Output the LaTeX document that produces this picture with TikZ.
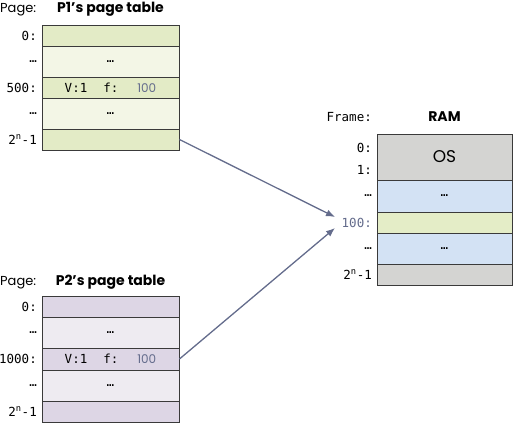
\documentclass[tikz,border=0pt]{standalone}
\usepackage{fontspec}
\setsansfont{Poppins}
\setmonofont{DejaVu Sans Mono}
\usetikzlibrary{arrows.meta}
\definecolor{gdark}{HTML}{E3EBC6}
\definecolor{glight}{HTML}{F3F6E6}
\definecolor{pdark}{HTML}{DDD6E5}
\definecolor{plight}{HTML}{EEEBF1}
\definecolor{osgray}{HTML}{D4D4D2}
\definecolor{rblue}{HTML}{D3E2F4}
\definecolor{rgreen}{HTML}{E4EDC7}
\definecolor{slate}{HTML}{646C8C}
\definecolor{bord}{HTML}{3A3A3A}
\tikzset{
  row/.style={draw=bord, line width=0.9pt, rectangle, inner sep=0pt, minimum width=137pt, font=\ttfamily\fontsize{12.5}{14}\selectfont},
  ramrow/.style={row, minimum width=135pt},
  lbl/.style={anchor=east, inner sep=0pt, font=\ttfamily\fontsize{12.5}{14}\selectfont},
  ttl/.style={inner sep=0pt, font=\sffamily\bfseries\fontsize{14}{16}\selectfont},
  captxt/.style={inner sep=0pt, font=\sffamily\fontsize{13}{15}\selectfont},
  conn/.style={draw=slate, line width=1.3pt, -{Latex[length=9pt,width=7pt]}}
}
\newcommand{\entry}{V:1\hspace{16pt}f:\hspace{19pt}{\sffamily\fontsize{12}{14}\selectfont\color{slate}100}}
\begin{document}
\begin{tikzpicture}[x=1pt,y=-1pt]
\useasboundingbox (0,0) rectangle (513,423);
% P1 table
\node[captxt, anchor=west] (p1page) at (0,10) {Page:};
\node[ttl] (p1title) at (110.5,9) {P1’s page table};
\node[row, fill=gdark, minimum height=21pt] (p1r1) at (110.5,35.5) {};
\node[row, fill=glight, minimum height=31pt] (p1r2) at (110.5,61.5) {…};
\node[row, fill=gdark, minimum height=21pt] (p1r3) at (110.5,87.5) {\entry};
\node[row, fill=glight, minimum height=31pt] (p1r4) at (110.5,113.5) {…};
\node[row, fill=gdark, minimum height=21pt] (p1r5) at (110.5,139.5) {};
\node[lbl] (p1l1) at (37,35.5) {0:};
\node[lbl] (p1l2) at (37,61.5) {…};
\node[lbl] (p1l3) at (37,87.5) {500:};
\node[lbl] (p1l4) at (37,113.5) {…};
\node[lbl] (p1l5) at (37,139.5) {2\textsuperscript{n}-1};
% P2 table
\node[captxt, anchor=west] (p2page) at (0,283) {Page:};
\node[ttl] (p2title) at (110.5,282) {P2’s page table};
\node[row, fill=pdark, minimum height=21pt] (p2r1) at (110.5,306.5) {};
\node[row, fill=plight, minimum height=31pt] (p2r2) at (110.5,332.5) {…};
\node[row, fill=pdark, minimum height=22pt] (p2r3) at (110.5,359) {\entry};
\node[row, fill=plight, minimum height=31pt] (p2r4) at (110.5,385.5) {…};
\node[row, fill=pdark, minimum height=21pt] (p2r5) at (110.5,411.5) {};
\node[lbl] (p2l1) at (37,306.5) {0:};
\node[lbl] (p2l2) at (37,332.5) {…};
\node[lbl] (p2l3) at (37,359) {1000:};
\node[lbl] (p2l4) at (37,385.5) {…};
\node[lbl] (p2l5) at (37,411.5) {2\textsuperscript{n}-1};
% RAM
\node[lbl] (frame) at (372,117) {Frame:};
\node[ttl] (ram) at (444.5,117) {RAM};
\node[ramrow, fill=osgray, minimum height=46pt, font=\sffamily\fontsize{17}{19}\selectfont] (r1) at (444.5,157) {OS};
\node[ramrow, fill=rblue, minimum height=32pt] (r2) at (444.5,196) {…};
\node[ramrow, fill=rgreen, minimum height=21pt] (r3) at (444.5,222.5) {};
\node[ramrow, fill=rblue, minimum height=31pt] (r4) at (444.5,248.5) {…};
\node[ramrow, fill=osgray, minimum height=21pt] (r5) at (444.5,274.5) {};
\node[lbl] (rl0) at (372,148) {0:};
\node[lbl] (rl1) at (372,170) {1:};
\node[lbl] (rl2) at (372,196) {…};
\node[lbl, text=slate] (rl3) at (372,222.5) {100:};
\node[lbl] (rl4) at (372,248.5) {…};
\node[lbl] (rl5) at (372,274.5) {2\textsuperscript{n}-1};
% arrows
\coordinate (t1) at (335,217);
\coordinate (t2) at (335,228);
\draw[conn] (p1r5.east) -- (t1);
\draw[conn] (p2r3.east) -- (t2);
\end{tikzpicture}
\end{document}
